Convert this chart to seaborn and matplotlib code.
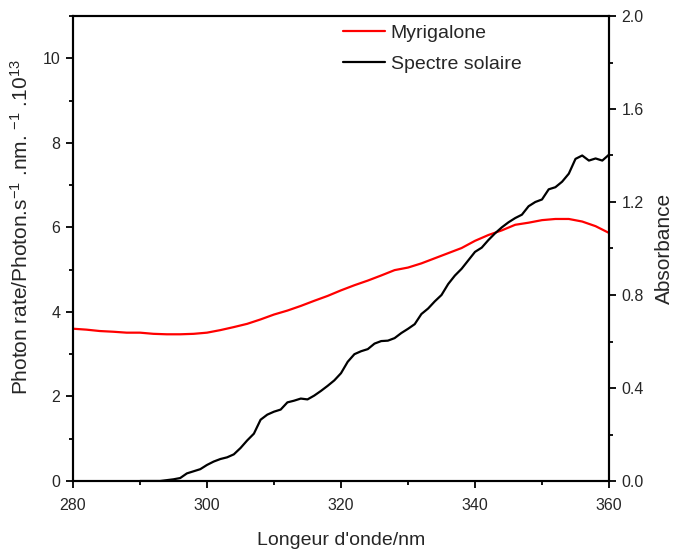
import matplotlib
matplotlib.use("Agg")
import matplotlib.pyplot as plt
from matplotlib.ticker import MultipleLocator
import seaborn as sns
import pandas as pd

# Solar spectrum (photon rate, left axis)
solar_nm = list(range(290, 361))
solar_rate = [0.0, 0.0, 0.0, 0.0, 0.02, 0.04, 0.07, 0.18, 0.23, 0.28,
              0.38, 0.46, 0.52, 0.56, 0.63, 0.78, 0.96, 1.12, 1.45, 1.57,
              1.64, 1.69, 1.86, 1.90, 1.95, 1.93, 2.02, 2.13, 2.25, 2.38,
              2.55, 2.82, 3.00, 3.07, 3.12, 3.25, 3.31, 3.32, 3.38, 3.50,
              3.60, 3.71, 3.95, 4.08, 4.25, 4.40, 4.66, 4.86, 5.02, 5.22,
              5.42, 5.52, 5.70, 5.86, 6.00, 6.12, 6.22, 6.30, 6.50, 6.60,
              6.66, 6.90, 6.95, 7.08, 7.27, 7.62, 7.70, 7.58, 7.63, 7.58,
              7.72]

# Myrigalone absorbance (right axis)
myr_nm = list(range(280, 361, 2))
myr_abs = [0.655, 0.651, 0.645, 0.642, 0.638, 0.638, 0.633, 0.631, 0.631, 0.633,
           0.638, 0.649, 0.662, 0.676, 0.695, 0.716, 0.733, 0.753, 0.775, 0.796,
           0.820, 0.842, 0.862, 0.884, 0.907, 0.918, 0.936, 0.958, 0.980, 1.002,
           1.033, 1.058, 1.078, 1.102, 1.111, 1.122, 1.127, 1.127, 1.116, 1.096,
           1.067]

x_ticks = [280, 300, 320, 340, 360]
left_ticks = [0, 2, 4, 6, 8, 10]
right_ticks = [0.0, 0.4, 0.8, 1.2, 1.6, 2.0]

sns.set_style("ticks")
plt.rcParams['font.family'] = ['Liberation Sans', 'DejaVu Sans']
plt.rcParams['mathtext.fontset'] = 'custom'
plt.rcParams['mathtext.rm'] = 'Liberation Sans'
plt.rcParams['mathtext.it'] = 'Liberation Sans'

df_solar = pd.DataFrame({"nm": solar_nm, "rate": solar_rate})
df_myr = pd.DataFrame({"nm": myr_nm, "abs": myr_abs})

fig = plt.figure(figsize=(6.77, 5.52), dpi=100)
ax = fig.add_axes([73/677, 1-481/552, (609-73)/677, (481-16)/552])
ax2 = ax.twinx()

sns.lineplot(data=df_solar, x="nm", y="rate", ax=ax, color="black", lw=1.6,
             label="Spectre solaire", legend=False)
sns.lineplot(data=df_myr, x="nm", y="abs", ax=ax2, color="#ff0000", lw=1.6,
             label="Myrigalone", legend=False)

ax.set_xlim(280, 360)
ax.set_ylim(0, 11)
ax2.set_ylim(0, 2.0)
ax.set_xticks(x_ticks)
ax.set_xticklabels([str(v) for v in x_ticks])
ax.set_yticks(left_ticks)
ax.set_yticklabels([str(v) for v in left_ticks])
ax2.set_yticks(right_ticks)
ax2.set_yticklabels([f"{v:.1f}" for v in right_ticks])
ax.xaxis.set_minor_locator(MultipleLocator(10))
ax.yaxis.set_minor_locator(MultipleLocator(1))
ax2.yaxis.set_minor_locator(MultipleLocator(0.2))

for a in (ax, ax2):
    for s in a.spines.values():
        s.set_linewidth(1.5)
        s.set_color("black")
    a.tick_params(which="major", length=5, width=1.3, labelsize=11.5, direction="out",
                  color="black", pad=4)
    a.tick_params(which="minor", length=3, width=1.3, direction="out", color="black")
ax.tick_params(axis="x", which="both", top=False)
ax.tick_params(axis="x", which="major", pad=7)

ax.set_xlabel("Longeur d'onde/nm", fontsize=14, labelpad=14)
ax.set_ylabel(r"Photon rate/Photon.s$^{-1}$ .nm. $^{-1}$ .10$^{13}$", fontsize=15)
ax.yaxis.set_label_coords(-0.077, 0.547)
ax2.set_ylabel("Absorbance", fontsize=15, labelpad=8)

h1, l1 = ax.get_legend_handles_labels()
h2, l2 = ax2.get_legend_handles_labels()
leg = ax2.legend(h2 + h1, l2 + l1, loc="upper left", bbox_to_anchor=(0.471, 1.019),
                 frameon=False, fontsize=14, handlelength=2.15, handletextpad=0.3,
                 labelspacing=0.66)
ax.set_zorder(ax2.get_zorder() + 1)
ax.patch.set_visible(False)

fig.savefig("out.png", dpi=100)
